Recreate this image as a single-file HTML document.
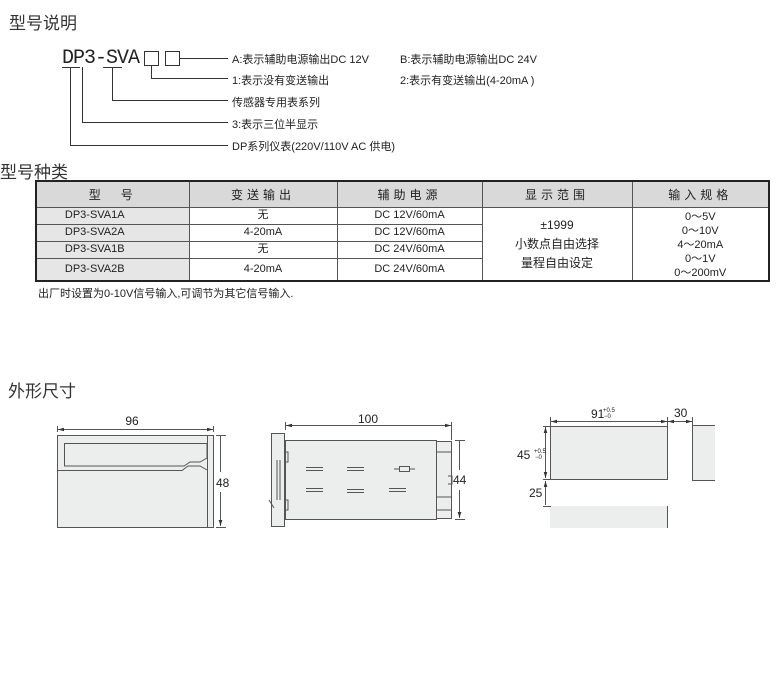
<!DOCTYPE html>
<html><head><meta charset="utf-8"><style>
body{margin:0;width:780px;height:679px;background:#fff;position:relative;overflow:hidden;font-family:"Liberation Sans","Noto Sans CJK SC",sans-serif;color:#222}
.a{position:absolute;white-space:nowrap}
.h{font-size:17px;color:#333}
.s{font-size:11px}
table{position:absolute;left:35px;top:180px;border-collapse:collapse;border:2px solid #222;font-size:11px;table-layout:fixed;width:733px}
td{border:1px solid #555;text-align:center;padding:0;height:15px;line-height:15px}
th{background:#d9d9d9;border:1px solid #555;font-weight:normal;font-size:12px;height:23px;letter-spacing:4px}
.g{background:#e6e6e6;padding-right:36px}
</style></head><body>
<div class="a h" style="left:9px;top:9px">型号说明</div>
<div class="a" style="left:62px;top:47px;font-size:20px;font-family:'Liberation Mono',monospace;letter-spacing:-1px">DP3-SVA</div>
<div class="a s" style="left:232px;top:51px">A:表示辅助电源输出DC 12V</div>
<div class="a s" style="left:400px;top:51px">B:表示辅助电源输出DC 24V</div>
<div class="a s" style="left:232px;top:72px">1:表示没有变送输出</div>
<div class="a s" style="left:400px;top:72px">2:表示有变送输出(4-20mA )</div>
<div class="a s" style="left:232px;top:94px">传感器专用表系列</div>
<div class="a s" style="left:232px;top:116px">3:表示三位半显示</div>
<div class="a s" style="left:232px;top:138px">DP系列仪表(220V/110V AC 供电)</div>
<svg class="a" style="left:0;top:0" width="780" height="679">
<g fill="none" stroke="#333" stroke-width="1">
<rect x="144.5" y="51.5" width="14" height="14"/><rect x="165.5" y="51.5" width="14" height="14"/>
<path d="M180 58.5H228M151.5 66V78.5H228M112.5 67V100.5H228M82.5 67V122.5H228M70.5 67V145.5H228"/>
<path d="M62 67.5H80M103 67.5H122"/>
</g></svg>
<div class="a h" style="left:0;top:158px">型号种类</div>
<table>
<colgroup><col style="width:153px"><col style="width:148px"><col style="width:145px"><col style="width:150px"><col style="width:137px"></colgroup>
<tr><th>型　号</th><th>变送输出</th><th>辅助电源</th><th>显示范围</th><th>输入规格</th></tr>
<tr><td class="g">DP3-SVA1A</td><td>无</td><td>DC 12V/60mA</td><td rowspan="4" style="font-size:12px;line-height:19px">±1999<br>小数点自由选择<br>量程自由设定</td><td rowspan="4" style="line-height:14px;font-size:11px;padding-top:2px">0～5V<br>0～10V<br>4～20mA<br>0～1V<br>0～200mV</td></tr>
<tr><td class="g">DP3-SVA2A</td><td>4-20mA</td><td>DC 12V/60mA</td></tr>
<tr><td class="g">DP3-SVA1B</td><td>无</td><td>DC 24V/60mA</td></tr>
<tr><td class="g" style="height:20px">DP3-SVA2B</td><td>4-20mA</td><td>DC 24V/60mA</td></tr>
</table>
<div class="a s" style="left:38px;top:285px">出厂时设置为0-10V信号输入,可调节为其它信号输入.</div>
<div class="a h" style="left:8px;top:377px">外形尺寸</div>
<svg class="a" style="left:0;top:0" width="780" height="679" font-family="Liberation Sans" font-size="12" fill="#222">
<defs><marker id="m" viewBox="0 0 10 10" refX="10" refY="5" markerWidth="6" markerHeight="6" orient="auto-start-reverse"><path d="M0 2L10 5L0 8Z" fill="#333"/></marker></defs>
<g stroke="#555" stroke-width="1">
<rect x="57.5" y="435.5" width="156" height="92" fill="#eceeed"/>
<path d="M207.5 436V527" fill="none"/>
<path d="M64.5 443.5H207V458L200 462H190L184 466H64.5Z" fill="#eceeed"/>
<path d="M58 470.5H182L188 466H200L207 470" fill="none"/>
<path d="M57.5 426V432M213.5 426V432M216 435.5H226M216 527.5H226" fill="none"/>
<path d="M58 429.5H213" fill="none" marker-start="url(#m)" marker-end="url(#m)"/>
<path d="M220.5 472V436M220.5 492V526" fill="none" marker-end="url(#m)"/>
<rect x="271.5" y="433.5" width="13" height="93" fill="#eceeed"/>
<path d="M277 460V500M280 460V500" fill="none"/>
<rect x="285.5" y="440.5" width="151" height="79" fill="#eceeed"/>
<rect x="436.5" y="441.5" width="15" height="77" fill="#eceeed"/>
<path d="M437 452H451M437 497H451M437 510H451M285 452h3v10h-3M285 500h3v10h-3M269 500l5 8M448 476h4v8h-4" fill="none"/>
<path d="M306 467.5h17M306 470.5h17M347 467.5h17M347 470.5h17M394 469h5M410 469h5M306 488.5h17M306 491.5h17M347 489.5h17M347 492.5h17M389 488.5h17M389 491.5h17" fill="none"/>
<rect x="399.5" y="466.5" width="10" height="5" fill="none"/>
<path d="M285.5 422V430M451.5 422V440M455 440.5H465M455 519.5H465" fill="none"/>
<path d="M286 425.5H451" fill="none" marker-start="url(#m)" marker-end="url(#m)"/>
<path d="M459.5 470V441M459.5 490V518" fill="none" marker-end="url(#m)"/>
<rect x="550.5" y="426.5" width="117" height="53" fill="#eceeed"/>
<rect x="693" y="426" width="22" height="54" fill="#eceeed" stroke="none"/>
<path d="M692 425.5h23M692.5 425V480M692 480.5h23" fill="none"/>
<rect x="550" y="506" width="117" height="22" fill="#eceeed" stroke="none"/>
<path d="M667.5 506V528M543 506.5h8M550.5 417V426M667.5 417V426M692.5 417V425M543 426.5h8M543 479.5h8" fill="none"/>
<path d="M551 421.5H667" fill="none" marker-start="url(#m)" marker-end="url(#m)"/>
<path d="M668 421.5H692" fill="none" marker-start="url(#m)" marker-end="url(#m)"/>
<path d="M545.5 427V478" fill="none" marker-start="url(#m)" marker-end="url(#m)"/>
<path d="M545.5 481V505" fill="none" marker-start="url(#m)"/>
</g>
<text x="132" y="425" text-anchor="middle">96</text>
<text x="216" y="487">48</text>
<text x="368" y="423" text-anchor="middle">100</text>
<text x="453" y="484">44</text>
<text x="591" y="418">91</text><text x="603" y="412" font-size="6">+0.5</text><text x="604" y="418" font-size="6">−0</text>
<text x="674" y="417">30</text>
<text x="517" y="459">45</text><text x="534" y="453" font-size="6">+0.5</text><text x="535" y="459" font-size="6">−0</text>
<text x="529" y="497">25</text>
</svg>
</body></html>
